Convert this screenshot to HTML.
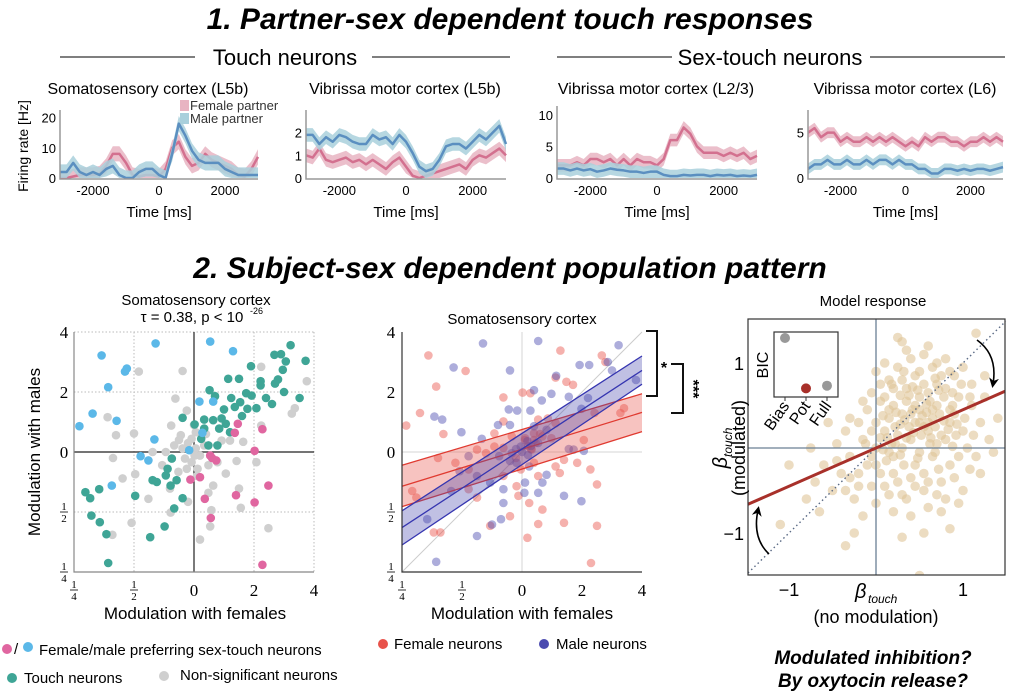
<!DOCTYPE html>
<html><head><meta charset="utf-8"><style>
body{margin:0;background:#fff}
svg{display:block;font-family:"Liberation Sans",sans-serif}
.serif{font-family:"Liberation Serif",serif}
</style></head><body>
<svg id="fig" width="1017" height="692" viewBox="0 0 1017 692" xmlns="http://www.w3.org/2000/svg">
<text x="510" y="29" text-anchor="middle" font-size="30" font-weight="bold" font-style="italic">1. Partner-sex dependent touch responses</text>
<text x="285" y="65" text-anchor="middle" font-size="22">Touch neurons</text>
<line x1="60" y1="57" x2="195" y2="57" stroke="#555" stroke-width="1.5"/>
<line x1="372" y1="57" x2="510" y2="57" stroke="#555" stroke-width="1.5"/>
<text x="770" y="65" text-anchor="middle" font-size="22">Sex-touch neurons</text>
<line x1="557" y1="57" x2="672" y2="57" stroke="#555" stroke-width="1.5"/>
<line x1="870" y1="57" x2="1005" y2="57" stroke="#555" stroke-width="1.5"/>
<text x="148" y="94" text-anchor="middle" font-size="16">Somatosensory cortex (L5b)</text>
<text x="405" y="94" text-anchor="middle" font-size="16">Vibrissa motor cortex (L5b)</text>
<text x="656" y="94" text-anchor="middle" font-size="16">Vibrissa motor cortex (L2/3)</text>
<text x="905" y="94" text-anchor="middle" font-size="16">Vibrissa motor cortex (L6)</text>
<text transform="translate(28,146) rotate(-90)" text-anchor="middle" font-size="14">Firing rate [Hz]</text>
<rect x="180" y="100" width="9" height="11" fill="#e8b4c2"/>
<text x="190" y="110" font-size="13" fill="#333">Female partner</text>
<rect x="180" y="113" width="9" height="11" fill="#a9d0dc"/>
<text x="190" y="123" font-size="13" fill="#333">Male partner</text>
<text x="510" y="278" text-anchor="middle" font-size="30" font-weight="bold" font-style="italic">2. Subject-sex dependent population pattern</text>
<g id="ts"></g>
<g id="sc1"></g>
<g id="sc2"></g>
<g id="sc3"></g>
</svg>
<script>
// ---------- time series data (t = -3000..3000 step 200 ms) ----------
const timeMs=[-3000,-2800,-2600,-2400,-2200,-2000,-1800,-1600,-1400,-1200,-1000,-800,-600,-400,-200,0,200,400,600,800,1000,1200,1400,1600,1800,2000,2200,2400,2600,2800,3000];
const p1Female=[0,0,0.5,1,1,1,1.5,4,8,8,5,1,0.5,1,1,0.5,3,10,12,7,4,5,8,6,5,4,3,1,0.5,3,7];
const p1Male=[2,2,5,2,1,2,1,3,4,1,0,0,2,3,3,1,0,8,18,14,9,6,5,5,5,3,2,1,1,1,1];
const p2Female=[1,0.9,1.3,0.8,0.7,0.8,0.9,0.7,0.8,0.6,0.8,0.6,0.4,0.7,0.9,0.5,0.1,0,0.1,0.2,0.3,0.4,0.5,0.6,0.4,0.8,1.0,0.9,1.1,1.3,1.0];
const p2Male=[1.9,1.9,1.5,1.8,1.6,1.9,1.8,1.6,1.5,1.5,1.9,1.7,1.8,1.5,1.9,1.6,1.1,0.5,0.3,0.4,0.8,1.4,1.5,1.5,1.3,1.6,1.9,1.7,2.0,2.3,1.5];
const p3Female=[2,2,2,2.5,2,3,3,2.5,3,2,3,2,3,2.5,2.5,2,3,6,6,8,7,5,4,4,4,3.5,4,3.5,4,3,3.5];
const p3Male=[1.5,1.5,1.2,1.5,1.2,1.4,1,1.2,1.5,1.3,1.2,1,1,0.8,1,1,0.5,0.3,0.3,0.5,0.4,0.5,0.5,0.3,0.5,0.4,0.5,0.3,0.4,0.3,0.5];
const p4Female=[5,5.5,4.5,5,5,4,4.5,4,4,4.5,4,4.5,4,4.5,4,3.5,4,3.5,4.5,4,4.5,4.5,4,4,3.5,4,4,4.5,4,4.5,4];
const p4Male=[1,1.5,1.5,2,1.5,1.5,2,1.5,1.5,2,1.5,2,2,1.5,2,1.5,1.5,1,1,0.5,0.5,1,1,0.8,1,0.8,1,1,0.8,1,1.2];
const panelSem=[2.5,0.3,1,0.6];
const timeTicks=[-2000,0,2000];
const p1YTicks=[0,10,20], p2YTicks=[0,1,2], p3YTicks=[0,5,10], p4YTicks=[0,5];

// ---------- scatter 1 (units: log2 modulation, -2..2) ----------
const sc1Blue=[[-1.54,1.61],[-1.12,1.39],[-1.15,1.34],[-1.43,1.08],[-1.69,0.64],[-1.91,0.43],[-1.29,0.52],[-0.64,1.81],[0.27,1.84],[0.65,1.68],[0.09,0.84],[0.32,0.84],[-0.66,0.21],[-0.89,-0.07],[-0.76,-0.14],[-1.37,-0.56],[-0.08,0.03],[0.14,0.32]];
const sc1Pink=[[0.73,0.47],[0.68,0.32],[1.14,0.38],[1.01,0.02],[0.27,-0.06],[0.37,-0.14],[0.3,-0.1],[-0.06,-0.46],[0.1,-0.42],[0.18,-0.78],[0.7,-0.72],[1.01,-0.84],[1.24,-0.56],[0.28,-1.1],[1.14,-1.88]];
const sc1Teal=[[1.61,1.78],[1.45,1.63],[1.34,1.62],[1.86,1.52],[1.53,1.51],[1.48,1.37],[0.95,1.43],[0.57,1.22],[0.75,1.22],[1.11,1.18],[1.4,1.21],[1.35,1.14],[1.11,1.11],[1.5,1.0],[1.76,0.9],[0.87,0.98],[0.96,0.94],[0.77,0.83],[1.04,0.73],[0.68,0.75],[0.89,0.72],[0.5,0.71],[0.35,0.93],[0.26,1.03],[0.46,0.56],[0.32,0.53],[0.17,0.54],[0.01,0.46],[0.17,0.39],[0.53,0.47],[0.6,0.33],[0.42,0.39],[0.12,0.22],[-0.19,0.57],[0.24,0.11],[0.39,0.11],[-0.37,-0.11],[-0.44,-0.28],[-0.47,-0.39],[-0.69,-0.47],[-0.62,-0.5],[-0.39,-0.56],[-0.29,-0.47],[-0.19,-0.77],[-0.33,-0.94],[-0.49,-1.24],[-0.73,-1.42],[-0.98,-0.73],[-1.81,-0.67],[-1.73,-0.77],[-1.58,-0.62],[-1.71,-1.06],[-1.57,-1.17],[-1.46,-1.37],[-1.43,-1.85],[0.8,0.6],[1.2,0.9],[0.62,0.9],[1.3,0.8]];
const sc1Gray=[[-0.19,1.35],[-0.92,1.34],[-1.44,0.58],[-1.3,0.28],[-1.0,0.31],[-0.31,0.89],[-0.12,0.69],[-0.38,0.44],[-0.22,0.28],[-0.33,0.11],[-0.47,0],[-0.69,0],[-0.19,0.06],[0.03,0.06],[0.1,-0.06],[-0.04,-0.17],[-0.12,-0.28],[-0.26,-0.33],[0.24,-0.22],[0.39,-0.17],[0.71,-0.15],[0.53,-0.36],[0.32,-0.56],[0.75,-0.61],[0.24,-0.68],[0.29,-0.97],[0.1,-1.46],[0.27,-1.24],[0.78,-0.93],[1.24,-1.27],[1.12,0.44],[1.12,1.42],[1.88,1.18],[1.68,0.73],[1.63,0.64],[1.04,-0.17],[0.46,0.19],[0.6,0.19],[0.82,0.17],[0.03,0.33],[0.17,0.11],[-0.04,0.22],[-1.35,-0.1],[-1.19,-0.44],[-0.98,-0.37],[-0.76,-0.78],[-1.04,-1.18],[-1.36,-1.38],[-0.1,-0.83],[-0.39,-1.01],[0.01,-0.06],[-0.15,-0.11],[0.06,-0.28],[-0.4,-0.61],[-0.53,-0.22],[-0.1,0.15],[0.0,0.45],[-0.25,0.2],[0.2,0.3],[0.05,-0.4]];
const scTickVals=[-2,-1,0,1,2];

// ---------- scatter 2 ----------
const sc2Male=[[-0.65,1.81],[0.27,1.85],[1.61,1.78],[-1.14,1.41],[-0.2,1.36],[0.57,1.27],[0.96,1.45],[1.12,1.45],[1.43,1.5],[1.5,1.36],[1.9,1.2],[0.2,1.03],[0.33,0.86],[0.49,0.97],[0.78,0.92],[-1.46,0.59],[-1.33,0.54],[-1.01,0.33],[-0.67,0.22],[-0.4,0.45],[-0.2,0.45],[-0.22,0.71],[-0.08,0.69],[0.14,0.69],[0.99,0.72],[1.1,0.9],[0.78,0.05],[0.86,0.04],[1.03,0.02],[-0.38,-0.07],[-0.17,-0.02],[-0.02,0.09],[0.09,0.18],[0.27,0.15],[0.41,0.37],[0.2,0.43],[-0.89,-0.07],[-1.04,-0.32],[-0.75,-0.4],[-0.53,-0.51],[-0.31,-0.62],[0.04,-0.68],[0.27,-0.68],[0.7,-0.73],[0.99,-0.82],[0.34,-0.51],[0.05,-0.51],[-0.31,-0.85],[-0.5,-1.21],[-0.75,-1.4],[-1.43,-1.83],[-1.58,-1.12],[-1.18,-0.65],[0.41,-0.38],[-0.35,-1.12],[0.12,-0.24],[-0.09,-0.18],[0,0],[-0.1,0.05],[0.1,-0.05],[-0.2,-0.15],[0.15,0.1]];
const sc2Female=[[-1.56,1.61],[-0.94,1.35],[-1.43,1.09],[0.64,1.69],[1.33,1.61],[1.39,1.5],[-1.7,0.65],[-1.93,0.44],[-1.31,0.3],[-0.31,0.91],[0.01,0.99],[0.14,0.98],[0.56,1.24],[0.74,1.17],[0.85,1.12],[1.7,0.73],[1.64,0.65],[1.21,0.65],[0.56,0.48],[0.43,0.56],[0.27,0.54],[-0.31,0.51],[-0.46,0.31],[-0.17,0.26],[0.05,0.23],[0.2,0.31],[0.34,0.26],[0.49,0.23],[-1.4,-0.1],[-1.11,-0.18],[-0.89,-0.29],[-0.75,0.04],[-0.6,-0.02],[-0.46,0.09],[0.16,0.04],[0.23,0.15],[0.7,-0.13],[0.92,-0.18],[1.14,-0.29],[0.56,-0.24],[0.2,-0.18],[-0.02,-0.29],[-0.31,-0.4],[-0.09,-0.57],[0.12,-0.85],[0.34,-0.96],[-0.06,-0.73],[-0.75,-0.76],[-0.89,-0.62],[-1.83,-0.65],[-1.76,-0.76],[-1.47,-1.34],[-1.36,-1.34],[-0.53,-1.23],[0.09,-1.43],[0.27,-1.2],[1.15,-1.85],[1.25,-1.23],[1.25,-0.54],[0.7,-1.18],[-0.2,-1.07],[0.27,-0.4],[0.63,-0.35],[1.03,0.2],[-0.31,0.07],[0.1,0.1],[0.2,0.2],[0.15,0.05],[-0.1,-0.1],[0.3,0.3],[0.05,0.2]];
const fitX=[-2,2];
const femaleFit=[-0.57,0.66], femaleLo=[-0.91,0.34], femaleHi=[-0.22,0.97];
const maleFit=[-1.26,1.36], maleLo=[-1.55,1.13], maleHi=[-0.98,1.6];

// ---------- model response ----------
const modelPts=[[0.1,0.2],[0.3,0.4],[0.5,0.6],[0.7,0.5],[0.9,0.4],[0.2,-0.1],[0.4,0.1],[0.6,0.2],[0.8,0.1],[1.0,0.2],[0.0,0.0],[0.15,0.35],[0.35,0.55],[0.55,0.75],[0.75,0.85],[0.25,0.15],[0.45,0.3],[0.65,0.35],[0.85,0.3],[0.95,0.6],[-0.1,-0.2],[-0.2,-0.3],[-0.3,-0.1],[-0.15,0.1],[0.05,-0.3],[0.25,-0.4],[0.45,-0.2],[0.65,-0.1],[0.85,-0.2],[1.05,0.0],[0.1,0.6],[0.3,0.8],[0.5,0.9],[0.7,1.0],[0.4,1.05],[0.6,0.65],[0.2,0.5],[0.8,0.7],[1.1,0.5],[1.2,0.3],[0.35,-0.6],[0.55,-0.5],[0.75,-0.4],[0.15,-0.55],[-0.05,-0.45],[0.9,-0.35],[1.15,-0.1],[0.5,-0.05],[0.3,0.0],[0.7,0.05],[-0.4,-0.3],[-0.35,0.2],[-0.5,-0.5],[-0.25,-0.6],[-0.45,0.05],[-0.6,-0.2],[-0.7,-0.4],[-0.3,0.35],[-0.1,0.45],[0.0,0.3],[0.42,0.45],[0.58,0.42],[0.62,0.55],[0.38,0.25],[0.52,0.15],[0.68,0.25],[0.48,0.68],[0.28,0.62],[0.78,0.6],[0.88,0.5],[0.12,-0.15],[0.32,-0.2],[0.22,0.25],[0.05,0.12],[-0.05,0.2],[0.18,0.05],[0.72,-0.25],[0.92,0.15],[1.02,0.35],[0.98,0.75],[0.6,-0.7],[0.4,-0.8],[0.2,-0.75],[0.8,-0.6],[1.0,-0.5],[-0.15,-0.8],[0.0,-0.65],[1.3,0.1],[1.25,0.6],[-0.55,0.3],[0.45,0.85],[0.25,0.95],[0.65,0.95],[0.85,0.9],[0.15,0.8],[0.55,1.1],[0.35,1.15],[0.1,1.0],[-0.05,0.65],[0.0,0.9],[-0.8,-0.6],[-0.65,-0.75],[-1.0,-0.2],[-0.75,0.0],[1.35,-0.05],[1.4,0.35],[-0.25,-1.0],[0.55,-1.0],[0.85,-0.95],[0.3,-1.05],[-1.1,-0.9],[-0.35,-1.15],[0.5,-1.5],[1.15,1.35],[0.3,1.25],[0.25,1.3],[-0.05,-0.1],[0.08,-0.02],[0.6,0.3],[0.45,0.5],[0.35,0.7],[0.7,0.75],[0.15,0.45],[0.9,0.85],[0.05,0.55],[0.55,-0.3],[0.75,-0.75],[-0.2,-0.45],[1.1,0.75],[0.2,0.7],
[0.33,0.33],[0.53,0.38],[0.73,0.4],[0.43,0.18],[0.63,0.12],[0.83,0.22],[0.23,0.42],[0.13,0.12],[0.38,0.62],[0.58,0.52],[0.78,0.32],[0.93,0.28],[0.48,-0.12],[0.68,-0.05],[0.28,-0.08],[0.08,0.38],[0.18,0.75],[0.68,0.82],[0.88,0.65],[1.08,0.6],[0.4,-0.35],[0.6,-0.4],[0.2,-0.3],[0.0,-0.2],[-0.2,0.3],[-0.12,0.05],[0.95,-0.1],[1.12,0.15],[0.32,0.9],[0.5,0.45],[0.72,0.68],[0.62,0.05],[0.42,0.72],[0.22,0.05],[0.85,0.45],[1.0,0.95],[0.55,0.25],[0.35,0.12],[0.75,0.15],[0.15,-0.05],
[-0.3,-0.35],[-0.45,-0.15],[0.1,-0.45],[0.3,-0.55],[0.7,-0.55],[0.95,-0.65],[1.2,-0.3],[1.25,0.85],[0.6,1.2],[0.8,1.05],[0.05,0.75],[-0.15,0.55],[0.4,0.4],[0.65,0.45],[0.5,0.3],[0.28,0.28],[0.88,0.02],[1.08,-0.25],[0.45,-0.45],[-0.35,-0.5]];
const modelSlope=[0.45];
const modelTicks=[-1,0,1];
const bicLabels=["Bias","Pot","Full"];
const bicValues=[1.0,0.05,0.1];

const NS="http://www.w3.org/2000/svg";
function mk(tag,attrs,parent,text){const e=document.createElementNS(NS,tag);for(const k in attrs)e.setAttribute(k,attrs[k]);if(text!==undefined)e.textContent=text;parent.appendChild(e);return e;}

// ---------- time series panels ----------
const ts=document.getElementById('ts');
const panels=[
 {x0:60,x1:258,yb:178,yt:110,ymax:22.5,f:p1Female,m:p1Male,ticks:p1YTicks},
 {x0:306,x1:506,yb:178,yt:110,ymax:3,f:p2Female,m:p2Male,ticks:p2YTicks},
 {x0:557,x1:757,yb:178,yt:106,ymax:11.4,f:p3Female,m:p3Male,ticks:p3YTicks},
 {x0:808,x1:1003,yb:178,yt:110,ymax:7.5,f:p4Female,m:p4Male,ticks:p4YTicks}];
panels.forEach((p,i)=>{
 const X=t=>p.x0+(t+3000)/6000*(p.x1-p.x0);
 const Y=v=>p.yb-Math.max(0,Math.min(p.ymax,v))/p.ymax*(p.yb-p.yt);
 const g=mk('g',{},ts);
 
 
 [[p.f,'#e8b4c2','#d3708f','female'],[p.m,'#a9d0dc','#5b8fc0','male']].forEach(([arr,band,col,nm])=>{
  let up=timeMs.map((t,j)=>X(t)+','+Y(arr[j]+panelSem[i])).join(' ');
  let lo=timeMs.slice().reverse().map((t,j)=>X(t)+','+Y(arr[arr.length-1-j]-panelSem[i])).join(' ');
  const b=mk('polygon',{points:up+' '+lo,fill:band,opacity:0.85},g);
  
  
  const l=mk('polyline',{points:timeMs.map((t,j)=>X(t)+','+Y(arr[j])).join(' '),fill:'none',stroke:col,'stroke-width':2.5,'stroke-linejoin':'round'},g);
  
  
 });
 const ax=mk('path',{d:`M${p.x0},${p.yt}V${p.yb+1}H${p.x1}`,fill:'none',stroke:'#999','stroke-width':1.5},g);
 
 
 timeTicks.forEach(t=>{
  const tx=mk('text',{x:X(t),y:195,'text-anchor':'middle','font-size':13},g,String(t));
  
  
 });
 p.ticks.forEach(v=>{
  const tx=mk('text',{x:p.x0-4,y:Y(v)+5,'text-anchor':'end','font-size':13},g,String(v));
  
  
 });
 const xl=mk('text',{x:(p.x0+p.x1)/2,y:217,'text-anchor':'middle','font-size':15},g,'Time [ms]');
 
 
});

// ---------- fraction tick helper ----------
function tickLabel(g,v,x,y){
 const labels={'-2':['1','4'],'-1':['1','2']};
 if(labels[v]){
  const t1=mk('text',{x:x,y:y-2,'text-anchor':'middle','font-size':11,class:'serif'},g,labels[v][0]);
  
  
  const ln=mk('line',{x1:x-4,x2:x+4,y1:y,y2:y,stroke:'#000','stroke-width':0.8},g);
  
  
  const t2=mk('text',{x:x,y:y+10,'text-anchor':'middle','font-size':11,class:'serif'},g,labels[v][1]);
  
  
 } else {
  const val={'0':'0','1':'2','2':'4'}[v];
  const t=mk('text',{x:x,y:y+6,'text-anchor':'middle','font-size':17,class:'serif'},g,val);
  
  
 }
}

// ---------- scatter 1 ----------
(function(){
 const g=document.getElementById('sc1');
 const cx=194, cy=452, u=60;
 const X=v=>cx+v*u, Y=v=>cy-v*u;
 scTickVals.forEach(v=>{
  if(v===0)return;
  const a=mk('line',{x1:X(v),x2:X(v),y1:Y(2),y2:Y(-2),stroke:'#bbb','stroke-dasharray':'1.5,2'},g);
  
  
  const b=mk('line',{x1:X(-2),x2:X(2),y1:Y(v),y2:Y(v),stroke:'#bbb','stroke-dasharray':'1.5,2'},g);
  
  
 });
 const z1=mk('line',{x1:X(0),x2:X(0),y1:Y(2),y2:Y(-2),stroke:'#222','stroke-width':1.2},g);
 
 
 const z2=mk('line',{x1:X(-2),x2:X(2),y1:Y(0),y2:Y(0),stroke:'#222','stroke-width':1.2},g);
 
 
 const ax=mk('path',{d:`M${X(-2)},${Y(2)}V${Y(-2)}H${X(2)}`,fill:'none',stroke:'#888','stroke-width':1.2},g);
 
 
 [[sc1Gray,'#cfcfcf','non-significant'],[sc1Teal,'#3fa596','touch'],[sc1Blue,'#5bb8e8','male-preferring'],[sc1Pink,'#e066a0','female-preferring']].forEach(([arr,c,nm])=>{
  arr.forEach(d=>{
   const e=mk('circle',{cx:X(d[0]),cy:Y(d[1]),r:4.3,fill:c},g);
   
   
  });
 });
 scTickVals.forEach(v=>{tickLabel(g,v,X(v),590);tickLabel(g,v,64,Y(v));});
 const t1=mk('text',{x:196,y:305,'text-anchor':'middle','font-size':15},g,'Somatosensory cortex');
 
 
 const t2=mk('text',{x:192,y:322,'text-anchor':'middle','font-size':15},g,'τ = 0.38, p < 10');
 
 
 const t3=mk('text',{x:250,y:314,'font-size':9},g,'-26');
 
 
 const xl=mk('text',{x:195,y:619,'text-anchor':'middle','font-size':17},g,'Modulation with females');
 
 
 const yl=mk('text',{transform:'translate(40,452) rotate(-90)','text-anchor':'middle','font-size':17},g,'Modulation with males');
 
 
 const leg=[[7,649,'#e066a0'],[28,647,'#5bb8e8'],[12,678,'#3fa596'],[164,676,'#cfcfcf']];
 leg.forEach(l=>{const e=mk('circle',{cx:l[0],cy:l[1],r:5,fill:l[2]},g);
  
  });
 const s=mk('text',{x:14,y:654,'font-size':15},g,'/');
 
 
 const l1=mk('text',{x:39,y:655,'font-size':15},g,'Female/male preferring sex-touch neurons');
 
 
 const l2=mk('text',{x:24,y:683,'font-size':15},g,'Touch neurons');
 
 
 const l3=mk('text',{x:180,y:680,'font-size':15},g,'Non-significant neurons');
 
 
})();

// ---------- scatter 2 ----------
(function(){
 const g=document.getElementById('sc2');
 const cx=522, cy=452, u=60;
 const X=v=>cx+v*u, Y=v=>cy-v*u;
 const d=mk('line',{x1:X(-2),y1:Y(-2),x2:X(2),y2:Y(2),stroke:'#ccc','stroke-width':1},g);
 
 
 const z1=mk('line',{x1:X(0),x2:X(0),y1:Y(2),y2:Y(-2),stroke:'#ddd','stroke-width':1.2},g);
 
 
 const z2=mk('line',{x1:X(-2),x2:X(2),y1:Y(0),y2:Y(0),stroke:'#ddd','stroke-width':1.2},g);
 
 
 [[sc2Female,'#e8524a','female'],[sc2Male,'#4a4ab0','male']].forEach(([arr,c,nm])=>{
  arr.forEach(p=>{
   const e=mk('circle',{cx:X(p[0]),cy:Y(p[1]),r:4.3,fill:c,'fill-opacity':0.45},g);
   
   
  });
 });
 [[femaleFit,femaleLo,femaleHi,'#e03a30','#e8524a','female'],[maleFit,maleLo,maleHi,'#3535b0','#4a4ab0','male']].forEach(([f,lo,hi,lc,bc,nm])=>{
  const b=mk('polygon',{points:`${X(fitX[0])},${Y(lo[0])} ${X(fitX[1])},${Y(lo[1])} ${X(fitX[1])},${Y(hi[1])} ${X(fitX[0])},${Y(hi[0])}`,fill:bc,'fill-opacity':0.35},g);
  
  
  [f,lo,hi].forEach(a=>{
   const l=mk('line',{x1:X(fitX[0]),y1:Y(a[0]),x2:X(fitX[1]),y2:Y(a[1]),stroke:lc,'stroke-width':1.3},g);
   
   
  });
 });
 const ax=mk('path',{d:`M${X(-2)},${Y(2)}V${Y(-2)}H${X(2)}`,fill:'none',stroke:'#333','stroke-width':1.2},g);
 
 
 scTickVals.forEach(v=>{tickLabel(g,v,X(v),590);tickLabel(g,v,391,Y(v));});
 const t1=mk('text',{x:522,y:324,'text-anchor':'middle','font-size':15},g,'Somatosensory cortex');
 
 
 const xl=mk('text',{x:522,y:619,'text-anchor':'middle','font-size':17},g,'Modulation with females');
 
 
 const br=mk('path',{d:'M646,331H657V396H646M671,364H683V413H671',fill:'none',stroke:'#111','stroke-width':2},g);
 
 
 const s1=mk('text',{x:664,y:373,'text-anchor':'middle','font-size':16,'font-weight':'bold'},g,'*');
 
 
 const s2=mk('text',{transform:'translate(688,389) rotate(90)','text-anchor':'middle','font-size':16,'font-weight':'bold'},g,'***');
 
 
 const m1=mk('circle',{cx:383,cy:644,r:5,fill:'#e8524a'},g);
 
 
 const l1=mk('text',{x:394,y:649,'font-size':15},g,'Female neurons');
 
 
 const m2=mk('circle',{cx:544,cy:644,r:5,fill:'#4a4ab0'},g);
 
 
 const l2=mk('text',{x:556,y:649,'font-size':15},g,'Male neurons');
 
 
})();

// ---------- model response ----------
(function(){
 const g=document.getElementById('sc3');
 const cx=876, cy=448, ux=87, uy=85, L=748, R=1005, T=319, B=575;
 const X=v=>cx+v*ux, Y=v=>cy-v*uy;
 const xmin=(L-cx)/ux, xmax=(R-cx)/ux;
 const cp=mk('clipPath',{id:'mclip'},g);
 mk('rect',{x:L,y:T,width:R-L,height:B-T},cp);
 const pg=mk('g',{'clip-path':'url(#mclip)'},g);
 
 
 modelPts.forEach(p=>{
  const e=mk('circle',{cx:X(p[0]),cy:Y(p[1]),r:4.8,fill:'#e0c497','fill-opacity':0.6},pg);
  
  
 });
 const v0=mk('line',{x1:X(0),x2:X(0),y1:T,y2:B,stroke:'#6a7f95','stroke-width':1.3},g);
 
 
 const h0=mk('line',{x1:L,x2:R,y1:Y(0),y2:Y(0),stroke:'#6a7f95','stroke-width':1.3},g);
 
 
 const dg=mk('line',{x1:X(xmin),y1:Y(xmin),x2:X(1.49),y2:Y(1.49),stroke:'#5a6a85','stroke-width':1.4,'stroke-dasharray':'1.5,3'},g);
 
 
 const rl=mk('line',{x1:L,y1:Y(xmin*modelSlope[0]),x2:R,y2:Y(xmax*modelSlope[0]),stroke:'#a8302a','stroke-width':3},g);
 
 
 const fr=mk('rect',{x:L,y:T,width:R-L,height:B-T,fill:'none',stroke:'#333','stroke-width':1.2},g);
 
 
 modelTicks.forEach(v=>{
  if(v===0)return;
  const lab=v<0?'−1':'1';
  const tx=mk('text',{x:X(v),y:B+21,'text-anchor':'middle','font-size':18},g,lab);
  
  
  const ty=mk('text',{x:L-4,y:Y(v)+7,'text-anchor':'end','font-size':18},g,lab);
  
  
 });
 const ah=mk('defs',{},g);
 const mrk=mk('marker',{id:'ah',markerWidth:10,markerHeight:10,refX:6,refY:5,orient:'auto',markerUnits:'userSpaceOnUse'},ah);
 mk('path',{d:'M0,0L10,5L0,10L3,5Z',fill:'#000'},mrk);
 const a1=mk('path',{d:'M977,340Q998,355 993,384',fill:'none',stroke:'#000','stroke-width':1.6,'marker-end':'url(#ah)'},g);
 
 
 const a2=mk('path',{d:'M769,554Q752,538 758,510',fill:'none',stroke:'#000','stroke-width':1.6,'marker-end':'url(#ah)'},g);
 
 
 const ib=mk('rect',{x:774,y:332,width:64,height:65,fill:'#fff',stroke:'#333','stroke-width':1.2},g);
 
 
 const bicCol=['#999','#a8302a','#999'];
 bicLabels.forEach((lab,i)=>{
  const bx=785+i*21;
  const c=mk('circle',{cx:bx,cy:391-bicValues[i]*53,r:5,fill:bicCol[i]},g);
  
  
  const tk=mk('line',{x1:bx,x2:bx,y1:397,y2:401,stroke:'#333'},g);
  
  
  const t=mk('text',{transform:`translate(${bx+5},${406}) rotate(-55)`,'text-anchor':'end','font-size':16},g,lab);
  
  
 });
 const bt=mk('text',{transform:'translate(768,365) rotate(-90)','text-anchor':'middle','font-size':16},g,'BIC');
 
 
 const tt=mk('text',{x:873,y:306,'text-anchor':'middle','font-size':15},g,'Model response');
 
 
 const xb=mk('text',{x:855,y:598,'font-size':20,'font-style':'italic'},g,'β');
 
 
 const xs=mk('text',{x:868,y:603,'font-size':12,'font-style':'italic'},g,'touch');
 
 
 const xl=mk('text',{x:876,y:623,'text-anchor':'middle','font-size':18},g,'(no modulation)');
 
 
 const yb=mk('text',{transform:'translate(727,448) rotate(-90)','text-anchor':'middle','font-size':18},g);
 
 
 mk('tspan',{'font-style':'italic','font-size':20},yb,'β');
 mk('tspan',{'font-style':'italic','font-size':12,dy:5},yb,'touch');
 const yl=mk('text',{transform:'translate(745,448) rotate(-90)','text-anchor':'middle','font-size':18},g,'(modulated)');
 
 
 const q1=mk('text',{x:873,y:664,'text-anchor':'middle','font-size':19,'font-weight':'bold','font-style':'italic'},g,'Modulated inhibition?');
 
 
 const q2=mk('text',{x:873,y:687,'text-anchor':'middle','font-size':19,'font-weight':'bold','font-style':'italic'},g,'By oxytocin release?');
 
 
})();
</script>
</body></html>
